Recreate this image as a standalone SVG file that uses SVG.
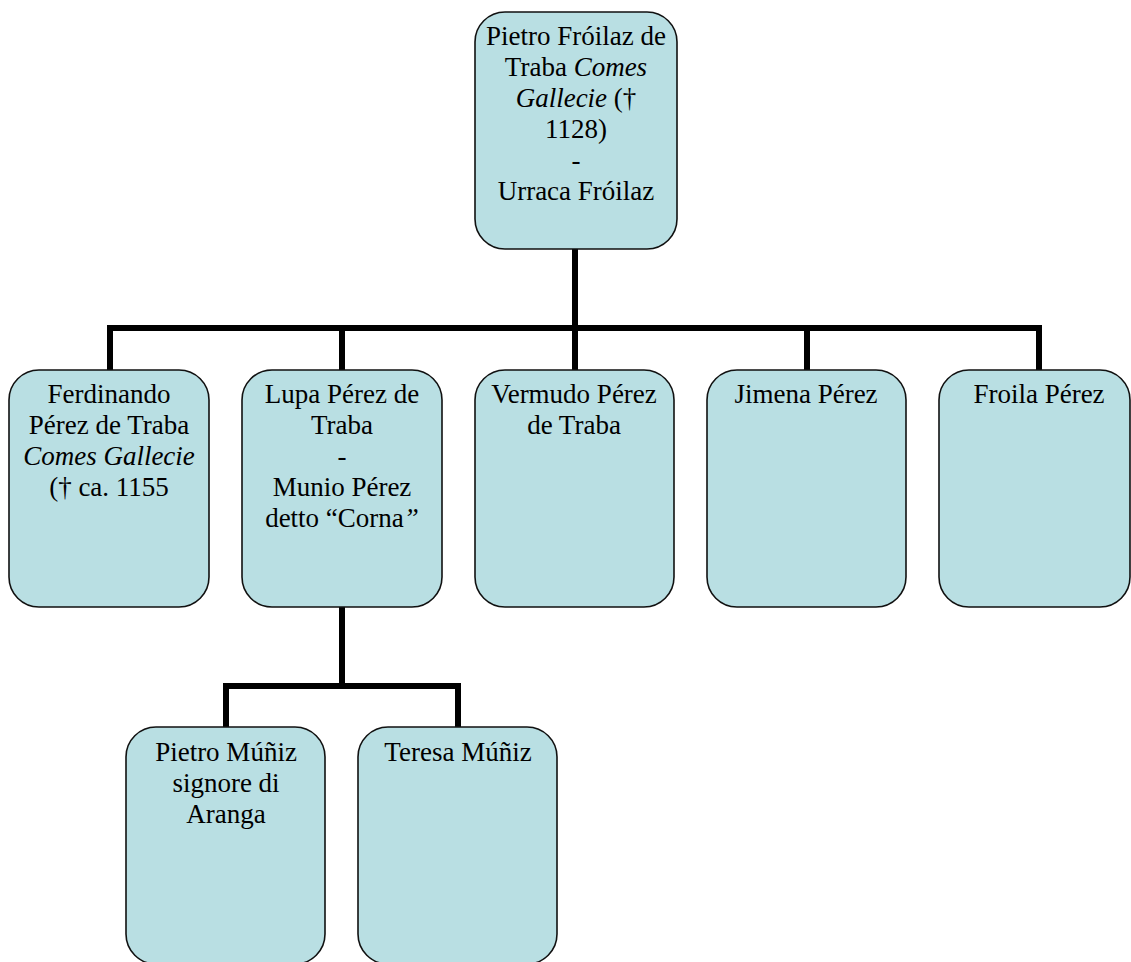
<svg xmlns="http://www.w3.org/2000/svg" width="1131" height="962" viewBox="0 0 1131 962">
  <style>
    .box { fill: #B9DFE3; stroke: #111; stroke-width: 1.6; }
    .lbl { font-family: "Liberation Serif", "Times New Roman", serif; font-size: 27px; fill: #000; text-anchor: middle; }
    .it { font-style: italic; }
    .wire { fill: none; stroke: #000; stroke-width: 6; stroke-linecap: butt; stroke-linejoin: miter; }
  </style>
  <rect width="1131" height="962" fill="#fff"/>

  <!-- tree connectors -->
  <g id="connectors">
    <path class="wire" d="M575 249 V370"/>
    <path class="wire" d="M107 328 H1042"/>
    <path class="wire" d="M110 328 V370"/>
    <path class="wire" d="M342 328 V370"/>
    <path class="wire" d="M807 328 V370"/>
    <path class="wire" d="M1039 328 V370"/>
    <path class="wire" d="M342 607 V686"/>
    <path class="wire" d="M226 727 V686 H458 V727"/>
  </g>

  <!-- root couple -->
  <g id="node-pietro-froilaz">
    <rect class="box" x="475" y="12" width="202" height="237" rx="30" ry="30"/>
    <text class="lbl" x="576" y="45">Pietro Fróilaz de</text>
    <text class="lbl" x="576" y="76">Traba <tspan class="it">Comes</tspan></text>
    <text class="lbl" x="576" y="107"><tspan class="it">Gallecie</tspan> (†</text>
    <text class="lbl" x="576" y="138">1128)</text>
    <text class="lbl" x="576" y="169">-</text>
    <text class="lbl" x="576" y="200">Urraca Fróilaz</text>
  </g>

  <!-- children -->
  <g id="node-ferdinando">
    <rect class="box" x="9" y="370" width="200" height="237" rx="30" ry="30"/>
    <text class="lbl" x="109" y="403">Ferdinando</text>
    <text class="lbl" x="109" y="434">Pérez de Traba</text>
    <text class="lbl it" x="109" y="465">Comes Gallecie</text>
    <text class="lbl" x="109" y="496">(† ca. 1155</text>
  </g>

  <g id="node-lupa">
    <rect class="box" x="242" y="370" width="200" height="237" rx="30" ry="30"/>
    <text class="lbl" x="342" y="403">Lupa Pérez de</text>
    <text class="lbl" x="342" y="434">Traba</text>
    <text class="lbl" x="342" y="465">-</text>
    <text class="lbl" x="342" y="496">Munio Pérez</text>
    <text class="lbl" x="342" y="527">detto “Corna<tspan class="it">”</tspan></text>
  </g>

  <g id="node-vermudo">
    <rect class="box" x="475" y="370" width="199" height="237" rx="30" ry="30"/>
    <text class="lbl" x="574" y="403">Vermudo Pérez</text>
    <text class="lbl" x="574" y="434">de Traba</text>
  </g>

  <g id="node-jimena">
    <rect class="box" x="707" y="370" width="199" height="237" rx="30" ry="30"/>
    <text class="lbl" x="806" y="403">Jimena Pérez</text>
  </g>

  <g id="node-froila">
    <rect class="box" x="939" y="370" width="191" height="237" rx="30" ry="30"/>
    <text class="lbl" x="1039" y="403">Froila Pérez</text>
  </g>

  <!-- grandchildren -->
  <g id="node-pietro-muniz">
    <rect class="box" x="126" y="727" width="199" height="237" rx="30" ry="30"/>
    <text class="lbl" x="226" y="761">Pietro Múñiz</text>
    <text class="lbl" x="226" y="792">signore di</text>
    <text class="lbl" x="226" y="823">Aranga</text>
  </g>

  <g id="node-teresa">
    <rect class="box" x="358" y="727" width="199" height="237" rx="30" ry="30"/>
    <text class="lbl" x="458" y="761">Teresa Múñiz</text>
  </g>
</svg>
